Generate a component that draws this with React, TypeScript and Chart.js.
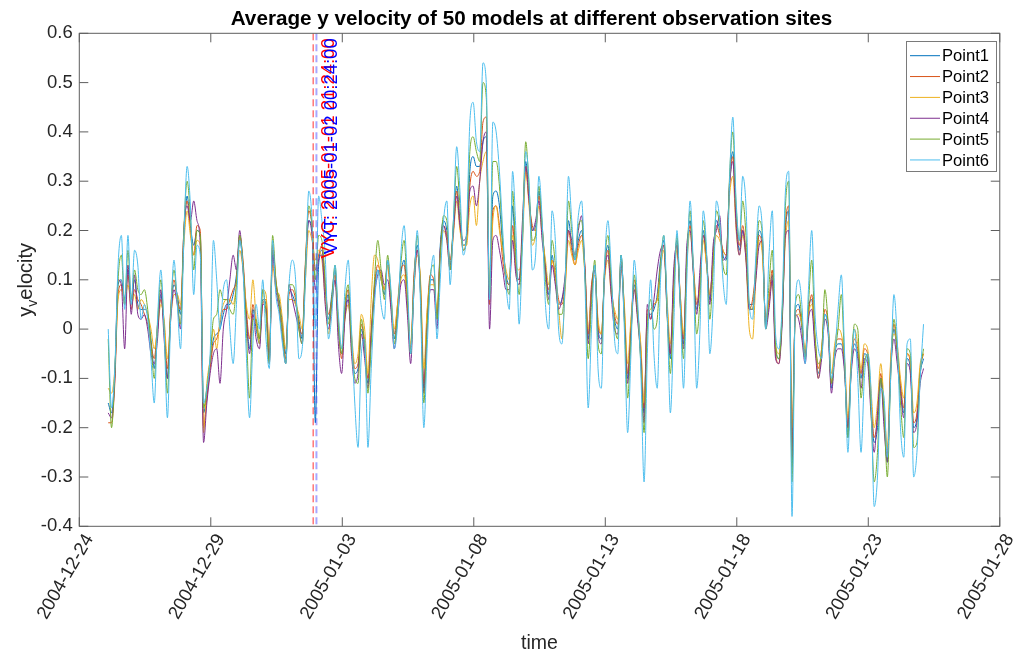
import React, { useEffect, useRef } from "react";
import { Chart, registerables } from "chart.js";

Chart.register(...registerables);

// ---------- data ----------
// time axis: days after 2004-12-24 00:00, one sample every 3 hours
const START_DAY = 1.1;
const STEP_DAYS = 0.125;

const TICK_DAYS = [0, 5, 10, 15, 20, 25, 30, 35];
const TICK_LABELS = [
  "2004-12-24", "2004-12-29", "2005-01-03", "2005-01-08",
  "2005-01-13", "2005-01-18", "2005-01-23", "2005-01-28",
];
const Y_TICKS = [-0.4, -0.3, -0.2, -0.1, 0, 0.1, 0.2, 0.3, 0.4, 0.5, 0.6];

const SERIES_NAMES = ["Point1", "Point2", "Point3", "Point4", "Point5", "Point6"];
const SERIES_COLORS = ["#0072BD", "#D95319", "#EDB120", "#7E2F8E", "#77AC30", "#4DBEEE"];

const POINT1 = [
  -0.15, -0.17, -0.09, 0.09, 0.1, 0.06, 0.12, 0.06,
  0.1, 0.05, 0.04, 0.04, 0.03, -0.02, -0.08, 0.0,
  0.07, 0.0, -0.1, 0.03, 0.09, 0.07, 0.03, 0.18,
  0.27, 0.21, 0.17, 0.2, 0.19, -0.17, -0.13, -0.07,
  -0.02, -0.01, 0.0, 0.03, 0.05, 0.05, 0.07, 0.11,
  0.18, 0.13, 0.03, -0.04, 0.04, 0.0, -0.03, 0.06,
  0.05, -0.06, 0.16, 0.09, 0.06, 0.01, -0.05, 0.08,
  0.07, 0.05, 0.02, -0.02, 0.13, 0.22, 0.2, -0.19,
  0.13, 0.16, 0.08, 0.02, 0.07, 0.12, 0.0, -0.05,
  0.03, 0.07, -0.03, -0.09, -0.08, 0.0, -0.04, -0.11,
  -0.02, 0.08, 0.12, 0.1, 0.07, 0.14, 0.06, -0.02,
  0.04, 0.11, 0.14, 0.06, -0.05, 0.1, 0.17, 0.08,
  -0.12, 0.02, 0.1, 0.1, 0.02, 0.17, 0.22, 0.2,
  0.13, 0.21, 0.29, 0.22, 0.17, 0.18, 0.32, 0.35,
  0.33, 0.33, 0.38, 0.39, 0.06, 0.27, 0.28, 0.25,
  0.17, 0.11, 0.09, 0.25, 0.13, 0.1, 0.19, 0.34,
  0.27, 0.2, 0.21, 0.28, 0.2, 0.13, 0.07, 0.15,
  0.1, 0.05, 0.06, 0.1, 0.22, 0.17, 0.14, 0.18,
  0.2, 0.12, -0.02, 0.08, 0.13, 0.0, -0.02, 0.12,
  0.17, 0.08, 0.02, 0.0, 0.15, 0.03, -0.1, 0.0,
  0.09, 0.03, -0.05, -0.17, 0.03, 0.03, 0.04, 0.07,
  0.14, 0.18, 0.04, -0.06, 0.1, 0.18, 0.06, -0.03,
  0.15, 0.22, 0.12, 0.04, 0.09, 0.2, 0.14, 0.06,
  0.15, 0.22, 0.2, 0.15, 0.14, 0.3, 0.36, 0.23,
  0.16, 0.2, 0.15, 0.05, 0.05, 0.11, 0.2, 0.17,
  0.01, 0.05, 0.11, -0.04, -0.06, 0.02, 0.2, 0.24,
  -0.28, 0.04, 0.05, 0.0, -0.06, 0.04, 0.06, -0.03,
  -0.09, -0.05, 0.03, 0.0, -0.12, -0.05, -0.03, -0.03,
  -0.08, -0.22, -0.08, -0.03, -0.05, -0.1, -0.05, -0.06,
  -0.15, -0.23, -0.2, -0.1, -0.18, -0.27, -0.08, 0.0,
  -0.05, -0.12, -0.17, -0.06, -0.08, -0.2, -0.18, -0.09,
  -0.06,
];

const POINT2 = [
  -0.19, -0.19, -0.11, 0.07, 0.09, 0.05, 0.11, 0.04,
  0.08, 0.06, 0.05, 0.03, 0.01, -0.03, -0.06, 0.01,
  0.06, 0.01, -0.08, 0.04, 0.1, 0.06, 0.04, 0.2,
  0.26, 0.2, 0.15, 0.21, 0.2, -0.2, -0.14, -0.08,
  -0.03, -0.02, 0.01, 0.04, 0.04, 0.06, 0.08, 0.1,
  0.19, 0.14, 0.04, -0.02, 0.05, 0.01, -0.02, 0.05,
  0.06, -0.05, 0.17, 0.1, 0.05, 0.0, -0.06, 0.07,
  0.08, 0.06, 0.01, -0.01, 0.14, 0.24, 0.21, 0.12,
  0.15, 0.17, 0.09, 0.03, 0.06, 0.11, 0.01, -0.06,
  0.04, 0.08, -0.02, -0.08, -0.07, 0.01, -0.03, -0.1,
  0.0, 0.09, 0.13, 0.11, 0.08, 0.13, 0.05, -0.01,
  0.05, 0.12, 0.13, 0.05, -0.04, 0.11, 0.16, 0.09,
  -0.11, 0.03, 0.11, 0.1, 0.03, 0.16, 0.21, 0.19,
  0.14, 0.2, 0.28, 0.21, 0.16, 0.18, 0.29, 0.32,
  0.31, 0.32, 0.42, 0.43, 0.05, 0.24, 0.25, 0.21,
  0.14, 0.1, 0.09, 0.21, 0.12, 0.1, 0.19, 0.33,
  0.26, 0.21, 0.2, 0.27, 0.21, 0.12, 0.08, 0.14,
  0.11, 0.06, 0.05, 0.09, 0.2, 0.16, 0.13, 0.17,
  0.19, 0.13, -0.01, 0.09, 0.12, 0.01, -0.01, 0.11,
  0.16, 0.09, 0.03, 0.01, 0.14, 0.04, -0.09, 0.01,
  0.1, 0.04, -0.04, -0.16, 0.04, 0.02, 0.05, 0.06,
  0.13, 0.17, 0.05, -0.05, 0.09, 0.17, 0.07, -0.02,
  0.14, 0.21, 0.13, 0.05, 0.1, 0.19, 0.13, 0.07,
  0.14, 0.21, 0.19, 0.16, 0.15, 0.29, 0.35, 0.22,
  0.17, 0.21, 0.15, 0.04, 0.06, 0.12, 0.19, 0.16,
  0.02, 0.06, 0.12, -0.05, -0.07, 0.03, 0.21, 0.25,
  -0.24, 0.03, 0.04, 0.01, -0.05, 0.03, 0.07, -0.02,
  -0.08, -0.04, 0.04, 0.01, -0.11, -0.04, -0.02, -0.02,
  -0.07, -0.2, -0.07, -0.02, -0.04, -0.09, -0.04, -0.05,
  -0.14, -0.22, -0.18, -0.09, -0.17, -0.26, -0.07, 0.01,
  -0.04, -0.11, -0.16, -0.05, -0.07, -0.19, -0.17, -0.08,
  -0.05,
];

const POINT3 = [
  -0.12, -0.13, -0.08, 0.06, 0.08, 0.06, 0.09, 0.05,
  0.07, 0.04, 0.06, 0.05, 0.03, 0.0, -0.04, 0.0,
  0.05, 0.02, -0.06, 0.02, 0.07, 0.07, 0.05, 0.17,
  0.24, 0.19, 0.15, 0.18, 0.17, -0.21, -0.11, -0.06,
  0.0, -0.04, 0.02, 0.05, 0.06, 0.06, 0.05, 0.09,
  0.16, 0.12, 0.05, 0.02, 0.1, 0.02, -0.03, 0.08,
  0.07, -0.04, 0.13, 0.08, 0.07, 0.02, -0.04, 0.06,
  0.06, 0.05, 0.03, 0.0, 0.1, 0.2, 0.18, 0.14,
  0.16, 0.14, 0.06, -0.01, 0.05, 0.1, 0.02, -0.04,
  0.02, 0.05, -0.01, -0.07, -0.05, 0.03, 0.0, -0.09,
  0.06, 0.15, 0.14, 0.1, 0.08, 0.13, 0.07, 0.0,
  0.05, 0.1, 0.11, 0.06, -0.03, 0.08, 0.15, 0.1,
  -0.08, 0.04, 0.09, 0.09, 0.04, 0.15, 0.2, 0.18,
  0.12, 0.19, 0.26, 0.2, 0.17, 0.17, 0.25, 0.27,
  0.21, 0.3, 0.34, 0.36, 0.08, 0.22, 0.25, 0.2,
  0.16, 0.12, 0.1, 0.19, 0.13, 0.12, 0.17, 0.32,
  0.25, 0.17, 0.19, 0.25, 0.19, 0.14, 0.09, 0.14,
  0.1, 0.04, -0.02, 0.08, 0.18, 0.15, 0.13, 0.16,
  0.18, 0.11, 0.0, 0.07, 0.11, 0.02, -0.01, 0.1,
  0.14, 0.07, 0.04, 0.02, 0.12, 0.05, -0.07, 0.02,
  0.08, 0.03, -0.03, -0.15, 0.02, 0.04, 0.05, 0.06,
  0.12, 0.16, 0.06, -0.03, 0.09, 0.16, 0.07, -0.01,
  0.13, 0.2, 0.12, 0.06, 0.08, 0.18, 0.13, 0.07,
  0.14, 0.19, 0.18, 0.16, 0.15, 0.27, 0.31, 0.2,
  0.15, 0.19, 0.14, 0.0, -0.02, 0.1, 0.18, 0.15,
  0.02, 0.05, 0.1, -0.03, -0.05, 0.03, 0.18, 0.22,
  -0.2, 0.02, 0.03, 0.01, -0.04, 0.03, 0.05, -0.02,
  -0.1, -0.04, 0.02, 0.0, -0.09, -0.03, 0.0, -0.01,
  -0.06, -0.18, -0.06, 0.0, -0.03, -0.08, -0.03, -0.04,
  -0.12, -0.2, -0.15, -0.07, -0.15, -0.24, -0.06, -0.01,
  -0.03, -0.1, -0.14, -0.05, -0.06, -0.17, -0.15, -0.07,
  -0.05,
];

const POINT4 = [
  -0.17, -0.18, -0.1, 0.1, 0.09, -0.04, 0.13, 0.03,
  0.11, 0.03, 0.02, 0.03, 0.0, -0.05, -0.07, -0.02,
  0.08, -0.02, -0.1, 0.02, 0.08, 0.05, 0.0, 0.2,
  0.25, 0.22, 0.26, 0.22, 0.17, -0.23, -0.15, -0.09,
  -0.05, -0.04, -0.11, 0.0, 0.04, 0.1, 0.15, 0.12,
  0.2, 0.12, 0.02, -0.05, 0.03, -0.02, -0.04, 0.05,
  0.04, -0.07, 0.15, 0.08, 0.04, -0.02, -0.07, 0.09,
  0.06, 0.03, 0.0, -0.03, 0.12, 0.22, 0.19, 0.08,
  0.14, 0.15, 0.05, 0.0, 0.05, 0.1, -0.03, -0.09,
  0.02, 0.06, -0.05, -0.11, -0.09, -0.01, -0.06, -0.12,
  -0.01, 0.07, 0.11, 0.12, 0.09, 0.1, 0.04, -0.04,
  0.02, 0.09, 0.1, 0.03, -0.07, 0.08, 0.16, 0.07,
  -0.13, 0.0, 0.08, 0.08, 0.0, 0.16, 0.21, 0.18,
  0.12, 0.2, 0.27, 0.21, 0.18, 0.19, 0.28, 0.29,
  0.25, 0.3, 0.38, 0.4, 0.0, 0.18, 0.19, 0.16,
  0.12, 0.08, 0.08, 0.18, 0.11, 0.09, 0.22, 0.33,
  0.26, 0.2, 0.22, 0.26, 0.18, 0.12, 0.06, 0.13,
  0.09, 0.04, 0.06, 0.11, 0.2, 0.18, 0.15, 0.2,
  0.23, 0.12, -0.03, 0.07, 0.12, -0.01, -0.03, 0.11,
  0.15, 0.07, 0.0, -0.01, 0.13, 0.02, -0.11, -0.01,
  0.08, 0.02, -0.06, -0.19, 0.05, 0.02, 0.06, 0.12,
  0.16, 0.17, 0.03, -0.05, 0.12, 0.17, 0.05, -0.04,
  0.17, 0.2, 0.11, 0.03, 0.12, 0.19, 0.15, 0.05,
  0.17, 0.2, 0.23, 0.14, 0.15, 0.29, 0.34, 0.21,
  0.15, 0.2, 0.14, 0.04, 0.04, 0.1, 0.17, 0.18,
  0.0, 0.04, 0.1, -0.06, -0.07, 0.01, 0.19, 0.2,
  -0.26, 0.03, 0.02, -0.02, -0.07, 0.02, 0.04, -0.04,
  -0.1, -0.06, 0.02, -0.01, -0.13, -0.06, -0.04, -0.04,
  -0.09, -0.2, -0.09, -0.04, -0.06, -0.12, -0.06, -0.07,
  -0.17, -0.25, -0.17, -0.1, -0.2, -0.27, -0.09, -0.02,
  -0.07, -0.13, -0.18, -0.07, -0.09, -0.21, -0.19, -0.11,
  -0.08,
];

const POINT5 = [
  -0.02, -0.2, -0.09, 0.1, 0.15, 0.05, 0.16, 0.06,
  0.12, 0.08, 0.07, 0.08, 0.04, -0.03, -0.1, 0.01,
  0.1, 0.0, -0.13, 0.04, 0.12, 0.06, 0.01, 0.2,
  0.3, 0.23, 0.12, 0.2, 0.19, -0.16, -0.12, -0.06,
  0.02, 0.03, 0.08, 0.06, 0.06, 0.04, 0.03, 0.09,
  0.19, 0.13, 0.0, -0.14, 0.02, 0.02, -0.02, 0.08,
  0.03, -0.07, 0.19, 0.1, 0.05, -0.01, -0.07, 0.09,
  0.09, 0.07, 0.0, -0.03, 0.13, 0.25, 0.21, 0.1,
  0.19, 0.18, 0.1, 0.01, 0.06, 0.13, 0.01, -0.05,
  0.05, 0.09, -0.03, -0.1, -0.11, 0.02, -0.03, -0.13,
  -0.03, 0.1, 0.18, 0.12, 0.06, 0.15, 0.07, -0.03,
  0.03, 0.13, 0.18, 0.07, -0.05, 0.09, 0.19, 0.07,
  -0.15, 0.0, 0.11, 0.13, 0.02, 0.15, 0.23, 0.22,
  0.12, 0.22, 0.33, 0.25, 0.16, 0.19, 0.36, 0.39,
  0.36, 0.34, 0.5, 0.47, 0.07, 0.34, 0.34, 0.29,
  0.18, 0.1, 0.07, 0.28, 0.15, 0.07, 0.19, 0.38,
  0.29, 0.18, 0.19, 0.29, 0.21, 0.1, 0.05, 0.18,
  0.13, 0.03, 0.03, 0.1, 0.26, 0.2, 0.14, 0.21,
  0.22, 0.11, -0.06, 0.05, 0.14, -0.03, -0.05, 0.13,
  0.19, 0.1, 0.01, -0.02, 0.15, 0.02, -0.14, -0.02,
  0.11, 0.04, -0.07, -0.21, 0.0, 0.06, 0.0, 0.02,
  0.13, 0.19, 0.03, -0.09, 0.06, 0.19, 0.05, -0.06,
  0.14, 0.24, 0.12, -0.01, 0.06, 0.22, 0.15, 0.02,
  0.12, 0.24, 0.21, 0.13, 0.11, 0.31, 0.4, 0.25,
  0.18, 0.26, 0.19, 0.05, 0.04, 0.13, 0.22, 0.19,
  0.0, 0.09, 0.16, -0.03, -0.06, 0.03, 0.25, 0.3,
  -0.31, 0.05, 0.07, 0.02, -0.06, 0.05, 0.14, -0.01,
  -0.07, -0.05, 0.08, 0.01, -0.11, -0.05, 0.0, 0.07,
  -0.07, -0.22, -0.08, 0.01, 0.0, -0.14, -0.07, -0.05,
  -0.16, -0.31, -0.25, -0.1, -0.17, -0.3, -0.1, 0.02,
  -0.04, -0.15, -0.22, -0.04, -0.05, -0.24, -0.23, -0.09,
  -0.04,
];

const POINT6 = [
  0.0, -0.16, -0.08, 0.13, 0.19, 0.04, 0.19, 0.05,
  0.16, 0.13, 0.02, 0.05, 0.02, -0.06, -0.15, 0.02,
  0.12, 0.0, -0.18, 0.02, 0.14, 0.05, -0.04, 0.18,
  0.33, 0.25, 0.07, 0.17, 0.15, -0.15, -0.12, -0.05,
  0.18, 0.1, 0.0, 0.08, 0.1, 0.0, -0.07, 0.05,
  0.18, 0.12, -0.05, -0.18, -0.03, 0.05, 0.0, 0.1,
  -0.02, -0.08, 0.18, 0.07, 0.03, -0.03, -0.07, 0.09,
  0.14, 0.1, -0.06, -0.04, 0.1, 0.28, 0.22, 0.0,
  0.27, 0.22, 0.15, -0.02, 0.03, 0.13, 0.03, -0.04,
  0.08, 0.14, 0.0, -0.15, -0.24, -0.05, -0.02, -0.24,
  -0.08, 0.05, 0.12, 0.05, 0.02, 0.14, 0.08, -0.04,
  0.01, 0.15, 0.21, 0.1, -0.05, 0.08, 0.2, 0.05,
  -0.2, -0.04, 0.1, 0.15, -0.02, 0.1, 0.22, 0.26,
  0.09, 0.22, 0.37, 0.28, 0.15, 0.2, 0.42, 0.46,
  0.38, 0.36, 0.54, 0.5, 0.06, 0.42, 0.4, 0.32,
  0.2, 0.09, 0.04, 0.32, 0.2, 0.01, 0.17, 0.36,
  0.3, 0.12, 0.15, 0.31, 0.22, 0.05, 0.0, 0.24,
  0.18, 0.0, -0.03, 0.1, 0.31, 0.22, 0.14, 0.23,
  0.26, 0.1, -0.16, 0.0, 0.13, -0.08, -0.12, 0.13,
  0.22, 0.12, -0.02, -0.05, 0.15, 0.0, -0.21, -0.05,
  0.14, 0.06, -0.08, -0.31, -0.05, 0.1, -0.05, -0.12,
  0.1, 0.19, 0.05, -0.17, 0.0, 0.2, 0.05, -0.12,
  0.1, 0.26, 0.12, -0.12, 0.0, 0.24, 0.16, -0.05,
  0.05, 0.26, 0.22, 0.1, 0.05, 0.3, 0.43, 0.26,
  0.18, 0.31, 0.25, 0.05, 0.02, 0.15, 0.25, 0.2,
  0.0, 0.15, 0.24, -0.01, -0.04, 0.05, 0.28, 0.32,
  -0.38, 0.05, 0.1, 0.05, -0.07, 0.08, 0.2, 0.03,
  -0.04, -0.06, 0.03, 0.0, -0.1, -0.05, 0.04, 0.11,
  -0.05, -0.25, -0.08, 0.0, -0.1, -0.25, -0.1, -0.05,
  -0.12, -0.36, -0.3, -0.12, -0.14, -0.26, -0.1, 0.07,
  -0.02, -0.2, -0.26, -0.03, -0.02, -0.3, -0.25, -0.1,
  0.01,
];

const SERIES_VALUES = [POINT1, POINT2, POINT3, POINT4, POINT5, POINT6];

// event markers (days after 2004-12-24 00:00)
const MARKER_DAYS = [8.8917, 9.0167];
const MARKER_LABELS = ["VYC: 2005-01-01 21:24:00", "VYT: 2005-01-02 00:24:00"];
const MARKER_COLORS = ["#ff0000", "#0000ff"];

const TITLE = "Average y velocity of 50 models at different observation sites";
const X_TITLE = "time";

// ---------- styling ----------
const FONT = '"Liberation Sans", Arial, Helvetica, sans-serif';
const TEXT_COLOR = "#262626";
const FRAME_COLOR = "#5e5e5e";

const decorPlugin = {
  id: "decor",
  afterDatasetsDraw(chart: any) {
    const { ctx, chartArea: a } = chart;
    const x = chart.scales.x;
    ctx.save();
    ctx.beginPath();
    ctx.rect(a.left, a.top, a.right - a.left, a.bottom - a.top);
    ctx.clip();
    // dashed marker lines
    MARKER_DAYS.forEach((d, k) => {
      const px = x.getPixelForValue(d);
      ctx.save();
      ctx.setLineDash([7, 4]);
      if (k === 0) {
        ctx.strokeStyle = "rgba(255,0,0,0.8)";
        ctx.lineWidth = 1;
      } else {
        ctx.strokeStyle = "rgba(60,60,255,0.45)";
        ctx.lineWidth = 2;
      }
      ctx.beginPath();
      ctx.moveTo(px, a.top);
      ctx.lineTo(px, a.bottom);
      ctx.stroke();
      ctx.restore();
    });
    // marker labels
    MARKER_DAYS.forEach((d, k) => {
      const px = x.getPixelForValue(d);
      ctx.save();
      ctx.translate(px + 21, a.top + 5);
      ctx.rotate(-Math.PI / 2);
      ctx.font = `18.5px ${FONT}`;
      ctx.fillStyle = MARKER_COLORS[k];
      ctx.textAlign = "right";
      ctx.textBaseline = "alphabetic";
      ctx.fillText(MARKER_LABELS[k], 0, 0);
      ctx.restore();
    });
    ctx.restore();
  },
  afterDraw(chart: any) {
    const { ctx, chartArea: a } = chart;
    const x = chart.scales.x;
    const y = chart.scales.y;
    ctx.save();
    // frame
    ctx.strokeStyle = FRAME_COLOR;
    ctx.lineWidth = 1;
    ctx.strokeRect(a.left, a.top, a.right - a.left, a.bottom - a.top);
    // inward ticks
    const TL = 9;
    ctx.beginPath();
    TICK_DAYS.forEach((d) => {
      const px = x.getPixelForValue(d);
      ctx.moveTo(px, a.bottom);
      ctx.lineTo(px, a.bottom - TL);
      ctx.moveTo(px, a.top);
      ctx.lineTo(px, a.top + TL);
    });
    Y_TICKS.forEach((v) => {
      const py = y.getPixelForValue(v);
      ctx.moveTo(a.left, py);
      ctx.lineTo(a.left + TL, py);
      ctx.moveTo(a.right, py);
      ctx.lineTo(a.right - TL, py);
    });
    ctx.stroke();

    // title
    const cx = (a.left + a.right) / 2;
    ctx.fillStyle = "#000000";
    ctx.font = `bold 20.7px ${FONT}`;
    ctx.textAlign = "center";
    ctx.textBaseline = "alphabetic";
    ctx.fillText(TITLE, cx - 8, 25);

    // x title
    ctx.fillStyle = TEXT_COLOR;
    ctx.font = `19.5px ${FONT}`;
    ctx.fillText(X_TITLE, cx, 649);

    // y title: y with subscript v, then "elocity"
    ctx.save();
    ctx.translate(32, (a.top + a.bottom) / 2);
    ctx.rotate(-Math.PI / 2);
    const big = `20px ${FONT}`;
    const small = `14px ${FONT}`;
    ctx.font = big;
    const wY = ctx.measureText("y").width;
    const wE = ctx.measureText("elocity").width;
    ctx.font = small;
    const wV = ctx.measureText("v").width;
    const total = wY + wV + wE;
    const x0 = -total / 2;
    ctx.textAlign = "left";
    ctx.font = big;
    ctx.fillText("y", x0, 0);
    ctx.font = small;
    ctx.fillText("v", x0 + wY, 5);
    ctx.font = big;
    ctx.fillText("elocity", x0 + wY + wV, 0);
    ctx.restore();

    // legend
    const lx = 906.5, ly = 41.5, lw = 90, lh = 130;
    ctx.fillStyle = "#ffffff";
    ctx.fillRect(lx, ly, lw, lh);
    ctx.strokeStyle = "#7a7a7a";
    ctx.lineWidth = 1;
    ctx.strokeRect(lx, ly, lw, lh);
    ctx.font = `16.6px ${FONT}`;
    ctx.textAlign = "left";
    ctx.textBaseline = "middle";
    chart.data.datasets.forEach((ds: any, k: number) => {
      const ry = 55.7 + k * 20.85;
      ctx.strokeStyle = ds.borderColor;
      ctx.lineWidth = 1;
      ctx.beginPath();
      ctx.moveTo(910, ry);
      ctx.lineTo(940, ry);
      ctx.stroke();
      ctx.fillStyle = "#000000";
      ctx.fillText(ds.label, 942, ry + 1);
    });
    ctx.restore();
  },
};

export default function App() {
  const canvasRef = useRef<HTMLCanvasElement | null>(null);

  useEffect(() => {
    const canvas = canvasRef.current;
    if (!canvas) return;
    const datasets = SERIES_VALUES.map((vals, k) => ({
      label: SERIES_NAMES[k],
      data: vals.map((v, i) => ({ x: START_DAY + i * STEP_DAYS, y: v })),
      borderColor: SERIES_COLORS[k],
      backgroundColor: SERIES_COLORS[k],
      borderWidth: 1,
      pointRadius: 0,
      fill: false,
      order: SERIES_NAMES.length - 1 - k,
      cubicInterpolationMode: "monotone" as const,
    }));

    const chart = new Chart(canvas, {
      type: "line",
      data: { datasets },
      options: {
        responsive: false,
        animation: false,
        devicePixelRatio: 1,
        layout: { padding: { left: 0, right: 20.7, top: 33.3, bottom: 0 } },
        plugins: {
          legend: { display: false },
          title: { display: false },
          tooltip: { enabled: false },
        },
        scales: {
          x: {
            type: "linear",
            min: 0,
            max: 35,
            afterBuildTicks: (s: any) => {
              s.ticks = TICK_DAYS.map((v) => ({ value: v }));
            },
            afterFit: (s: any) => {
              s.height = 127.7;
            },
            grid: { display: false, drawTicks: false },
            border: { display: false },
            ticks: {
              autoSkip: false,
              minRotation: 60,
              maxRotation: 60,
              padding: 4,
              labelOffset: 10,
              color: TEXT_COLOR,
              font: { family: FONT, size: 18.5 },
              callback: (_v: any, i: number) => TICK_LABELS[i],
            },
          },
          y: {
            type: "linear",
            min: -0.4,
            max: 0.6,
            afterBuildTicks: (s: any) => {
              s.ticks = Y_TICKS.map((v) => ({ value: v }));
            },
            afterFit: (s: any) => {
              s.width = 79.3;
            },
            grid: { display: false, drawTicks: false },
            border: { display: false },
            ticks: {
              padding: 6.6,
              color: TEXT_COLOR,
              font: { family: FONT, size: 18.5 },
              callback: (v: any) => {
                const r = Math.round(Number(v) * 10) / 10;
                return r === 0 ? "0" : String(r);
              },
            },
          },
        },
      },
      plugins: [decorPlugin],
    });
    return () => chart.destroy();
  }, []);

  return (
    <div style={{ position: "absolute", left: 0, top: 0, width: 1023, height: 654, background: "#ffffff" }}>
      <canvas ref={canvasRef} width={1023} height={654} style={{ display: "block" }} />
    </div>
  );
}
